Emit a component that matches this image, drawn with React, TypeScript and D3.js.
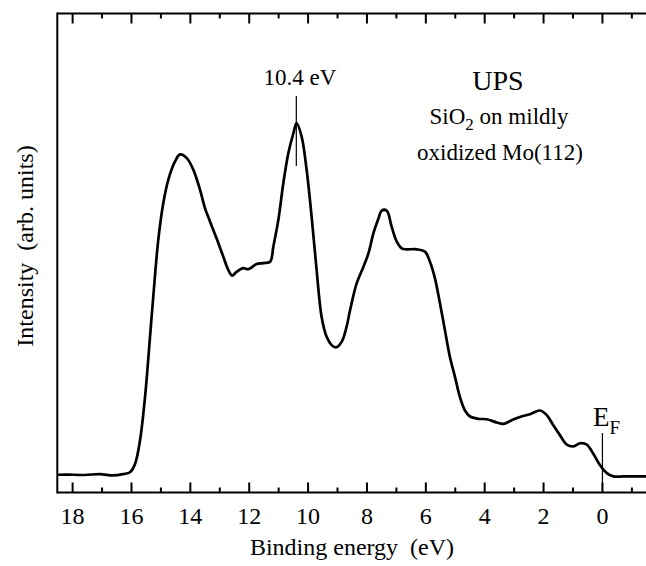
import React from "react";
import * as d3 from "d3";

const energy = [
  18.52, 18.19, 17.58, 17.07, 16.62, 16.28, 16.05, 15.88, 15.71, 15.54, 15.37, 15.26, 15.09, 14.92,
  14.75, 14.52, 14.35, 14.12, 13.9, 13.67, 13.5, 13.33, 13.11, 12.88, 12.71, 12.58, 12.43, 12.2,
  12.03, 11.75, 11.52, 11.29, 11.18, 11.01, 10.84, 10.67, 10.5, 10.39, 10.22, 10.05, 9.88, 9.71,
  9.54, 9.37, 9.2, 9.05, 8.86, 8.69, 8.58, 8.35, 8.12, 7.95, 7.78, 7.61, 7.5, 7.33, 7.16, 6.99,
  6.82, 6.65, 6.31, 6.03, 5.86, 5.69, 5.52, 5.35, 5.18, 5.01, 4.84, 4.67, 4.5, 4.22, 3.93, 3.59,
  3.37, 3.08, 2.8, 2.46, 2.12, 1.89, 1.67, 1.44, 1.21, 0.99, 0.76, 0.53, 0.31, 0.08, -0.15, -0.37,
  -0.71, -1.17, -1.48,
];
const intensity = [
  -0.15, -0.1, -0.2, 0.0, -0.3, 0.0, 0.4, 2.2, 7.3, 16.7, 29.8, 38.5, 50.8, 58.8,
  63.9, 67.9, 69.4, 68.6, 66.1, 61.7, 57.7, 54.8, 51.2, 47.2, 44.3, 43.1, 43.9, 44.7,
  44.5, 45.6, 45.8, 46.1, 49.4, 55.2, 63.2, 69.7, 74.0, 76.2, 73.3, 66.1, 55.9, 44.3,
  34.1, 29.8, 28.0, 27.5, 28.7, 32.0, 35.4, 41.4, 45.0, 47.9, 52.3, 55.5, 57.2, 57.2, 53.7, 50.5,
  49.0, 48.8, 48.8, 48.3, 46.1, 42.5, 37.1, 31.2, 25.4, 21.1, 16.7, 13.8, 12.5, 12.0, 11.9, 11.2,
  10.9, 11.7, 12.4, 13.0, 13.8, 12.8, 10.6, 8.4, 6.4, 6.0, 6.7, 6.4, 4.4, 1.9, 0.2, -0.5,
  -0.5, -0.5, -0.5,
];

const majorTicks = [18, 16, 14, 12, 10, 8, 6, 4, 2, 0];
const minorTicks = [17, 15, 13, 11, 9, 7, 5, 3, 1, -1];
const peakEnergy = 10.4;
const fermiEnergy = 0;

const xDomain = [18.52, -1.48];
const yDomain = [-4, 100];

const W = 646;
const H = 566;
const left = 57.3;
const right = 646;
const top = 13.5;
const bottom = 492.5;
const font = "'Liberation Serif', 'Times New Roman', 'DejaVu Serif', serif";
const ts: React.CSSProperties = { fontFamily: font };

export default function App() {
  const x = d3.scaleLinear().domain(xDomain).range([left, right]);
  const y = d3.scaleLinear().domain(yDomain).range([bottom, top]);
  const pts: [number, number][] = energy.map((e, i) => [e, intensity[i]]);
  const line = d3
    .line<[number, number]>()
    .x((d) => x(d[0]))
    .y((d) => y(d[1]))
    .curve(d3.curveCatmullRom.alpha(0.5));
  const path = line(pts) || "";

  return (
    <svg
      width={W}
      height={H}
      style={{ position: "absolute", left: 0, top: 0, display: "block", background: "#fff" }}
    >
      <rect x={0} y={0} width={W} height={H} fill="#fff" />
      {/* frame */}
      <line x1={left} x2={right + 2} y1={top} y2={top} stroke="#000" strokeWidth={2} />
      <line x1={left} x2={right + 2} y1={bottom} y2={bottom} stroke="#000" strokeWidth={2} />
      <line x1={left} x2={left} y1={top - 1} y2={bottom + 1} stroke="#000" strokeWidth={2} />
      {majorTicks.map((t) => (
        <g key={"M" + t}>
          <line x1={x(t)} x2={x(t)} y1={bottom} y2={bottom - 10} stroke="#000" strokeWidth={2} />
          <line x1={x(t)} x2={x(t)} y1={top} y2={top + 10} stroke="#000" strokeWidth={2} />
          <text x={x(t)} y={524} fontSize={24} textAnchor="middle" fill="#000" style={ts}>
            {t}
          </text>
        </g>
      ))}
      {minorTicks.map((t) => (
        <g key={"m" + t}>
          <line x1={x(t)} x2={x(t)} y1={bottom} y2={bottom - 5} stroke="#000" strokeWidth={2} />
          <line x1={x(t)} x2={x(t)} y1={top} y2={top + 5} stroke="#000" strokeWidth={2} />
        </g>
      ))}
      {/* spectrum */}
      <path d={path} fill="none" stroke="#000" strokeWidth={2.7} strokeLinejoin="round" />
      {/* markers */}
      <line x1={x(peakEnergy)} x2={x(peakEnergy)} y1={96} y2={166} stroke="#000" strokeWidth={1.2} />
      <text x={300} y={85} fontSize={23} textAnchor="middle" fill="#000" style={ts}>
        10.4 eV
      </text>
      <line x1={x(fermiEnergy)} x2={x(fermiEnergy)} y1={433} y2={bottom} stroke="#000" strokeWidth={1.2} />
      <text x={593} y={426} fontSize={27} fill="#000" style={ts}>
        E
        <tspan fontSize={19} dy={8}>F</tspan>
      </text>
      {/* annotation */}
      <text x={498} y={90} fontSize={28} textAnchor="middle" fill="#000" style={ts}>
        UPS
      </text>
      <text x={499} y={124} fontSize={23} textAnchor="middle" fill="#000" style={ts}>
        SiO
        <tspan fontSize={17} dy={6}>2</tspan>
        <tspan dy={-6}> on mildly</tspan>
      </text>
      <text x={500} y={160} fontSize={23} textAnchor="middle" fill="#000" style={ts}>
        oxidized Mo(112)
      </text>
      {/* axis titles */}
      <text x={352} y={555} fontSize={24} textAnchor="middle" fill="#000" style={{ ...ts, whiteSpace: "pre" }}>
        {"Binding energy  (eV)"}
      </text>
      <text
        transform={`translate(33,246) rotate(-90)`}
        fontSize={24}
        textAnchor="middle"
        fill="#000"
        style={{ ...ts, whiteSpace: "pre" }}
      >
        {"Intensity  (arb. units)"}
      </text>
    </svg>
  );
}
